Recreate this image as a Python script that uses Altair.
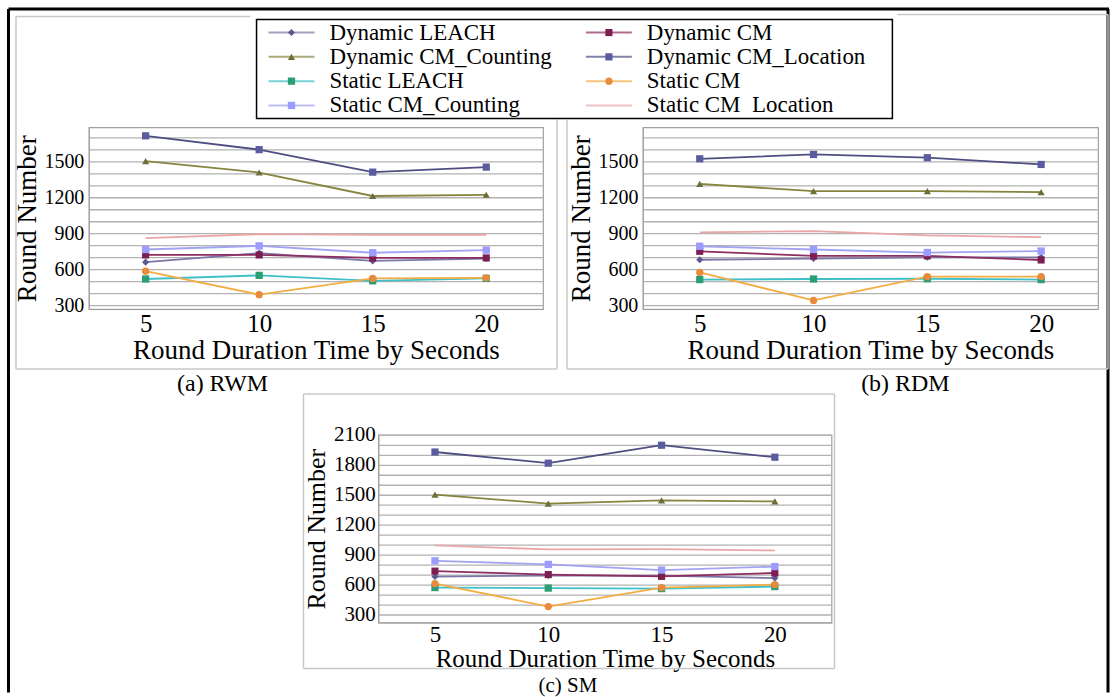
import altair as alt
import pandas as pd

FONT = "Liberation Serif"

SERIES = ["Dynamic LEACH", "Dynamic CM", "Dynamic CM_Counting", "Dynamic CM_Location",
          "Static LEACH", "Static CM", "Static CM_Counting", "Static CM_Location"]
LEGEND_LABELS = ["Dynamic LEACH", "Dynamic CM", "Dynamic CM_Counting", "Dynamic CM_Location",
                 "Static LEACH", "Static CM", "Static CM_Counting", "Static CM\u00a0 Location"]
DURATIONS = [5, 10, 15, 20]

# (a) RWM
RWM_DYN_LEACH = [660, 735, 670, 690]
RWM_DYN_CM = [720, 720, 695, 695]
RWM_DYN_COUNT = [1500, 1405, 1210, 1220]
RWM_DYN_LOC = [1710, 1595, 1408, 1450]
RWM_ST_LEACH = [520, 550, 505, 525]
RWM_ST_CM = [585, 390, 525, 530]
RWM_ST_COUNT = [765, 795, 738, 760]
RWM_ST_LOC = [860, 893, 886, 886]

# (b) RDM
RDM_DYN_LEACH = [680, 690, 700, 700]
RDM_DYN_CM = [750, 712, 712, 678]
RDM_DYN_COUNT = [1310, 1250, 1250, 1242]
RDM_DYN_LOC = [1519, 1555, 1528, 1472]
RDM_ST_LEACH = [515, 520, 522, 515]
RDM_ST_CM = [575, 342, 540, 540]
RDM_ST_COUNT = [792, 765, 740, 752]
RDM_ST_LOC = [908, 918, 882, 868]

# (c) SM
SM_DYN_LEACH = [680, 690, 690, 665]
SM_DYN_CM = [735, 700, 682, 716]
SM_DYN_COUNT = [1502, 1410, 1443, 1433]
SM_DYN_LOC = [1928, 1816, 1996, 1876]
SM_ST_LEACH = [570, 565, 560, 580]
SM_ST_CM = [610, 380, 570, 600]
SM_ST_COUNT = [838, 802, 745, 780]
SM_ST_LOC = [993, 952, 955, 942]

# axis ticks
AB_LABELS = [300, 600, 900, 1200, 1500]
AB_GRID = [300, 400, 500, 600, 700, 800, 900, 1000, 1100, 1200, 1300, 1400, 1500, 1600, 1700]
C_LABELS = [300, 600, 900, 1200, 1500, 1800, 2100]
C_GRID = [300, 400, 500, 600, 700, 800, 900, 1000, 1100, 1200, 1300, 1400, 1500, 1600,
          1700, 1800, 1900, 2000, 2100]

# styles
LINE_COLORS = ["#7a77a6", "#8e2d5f", "#86853f", "#4e4e82",
               "#3fc0c8", "#f3ad45", "#a3a3f2", "#e9a7a7"]
MARKER_COLORS = ["#5c5890", "#7c1f50", "#6e6d3a", "#5b5ba0",
                 "#2c9e73", "#ea8a3c", "#9c9cff", "#e9a7a7"]
SHAPES = ["diamond", "square", "triangle-up", "square", "square", "circle", "square", "circle"]
SIZES = [50, 55, 90, 160, 130, 55, 170, 0]

ONE = pd.DataFrame({"k": [0]})


def make_df(values):
    rows = []
    for s, vals in zip(SERIES, values):
        for d, v in zip(DURATIONS, vals):
            rows.append({"series": s, "duration": d, "rounds": v})
    return pd.DataFrame(rows)


def rule(x1, y1, x2=None, y2=None, color="#c8c8c8", width=1.5):
    enc = {"x": alt.value(x1), "y": alt.value(y1)}
    if x2 is not None:
        enc["x2"] = alt.value(x2)
    if y2 is not None:
        enc["y2"] = alt.value(y2)
    return alt.Chart(ONE).mark_rule(color=color, strokeWidth=width).encode(**enc)


def caption(text, cx, cy, size=24):
    return alt.Chart(ONE).mark_text(text=text, font=FONT, fontSize=size, color="black",
                                    align="center", baseline="middle").encode(
        x=alt.value(cx), y=alt.value(cy))


color_scale = alt.Scale(domain=SERIES, range=LINE_COLORS)
fill_scale = alt.Scale(domain=SERIES, range=MARKER_COLORS)
shape_scale = alt.Scale(domain=SERIES, range=SHAPES)
size_scale = alt.Scale(domain=SERIES, range=SIZES)


def panel_layers(df, ydom, labels, grid, xls, xts, yls, yts, ylpad, ytpad, xlpad, xtpad, decor):
    lab_expr = "indexof([" + ",".join(str(v) for v in labels) + "], datum.value) >= 0 ? datum.label : ''"
    x = alt.X("duration:Q",
              scale=alt.Scale(domain=[2.5, 22.5], nice=False, zero=False),
              axis=alt.Axis(values=DURATIONS, title="Round Duration Time by Seconds", grid=False,
                            ticks=False, labelFont=FONT, labelFontSize=xls, labelColor="black",
                            labelPadding=xlpad, labelFlush=False, labelOverlap=False,
                            titleFont=FONT, titleFontSize=xts, titleFontWeight="normal",
                            titleColor="black", titlePadding=xtpad, domainColor="#a0a0a0"))
    y = alt.Y("rounds:Q",
              scale=alt.Scale(domain=ydom, nice=False, zero=False),
              axis=alt.Axis(values=grid, format="d", labelExpr=lab_expr, title="Round Number",
                            grid=True, gridColor="#b2b2b2", gridWidth=1.3, ticks=False,
                            labelFont=FONT, labelFontSize=yls, labelColor="black",
                            labelPadding=ylpad, labelFlush=False, labelOverlap=False,
                            titleFont=FONT, titleFontSize=yts, titleFontWeight="normal",
                            titleColor="black", titlePadding=ytpad, domainColor="#a0a0a0"))
    base = alt.Chart(df)
    lines = base.mark_line(strokeWidth=1.8).encode(
        x=x, y=y, color=alt.Color("series:N", scale=color_scale, legend=None))
    points = base.transform_filter(alt.datum.series != "Static CM_Location").mark_point(
        filled=True, opacity=1).encode(
        x=x, y=y,
        fill=alt.Fill("series:N", scale=fill_scale, legend=None),
        shape=alt.Shape("series:N", scale=shape_scale, legend=None),
        size=alt.Size("series:N", scale=size_scale, legend=None))
    return alt.layer(*decor, lines, points)


# ---- legend, drawn in panel a's frame of reference (panel a origin = page 88,126)
legend_df = pd.DataFrame({
    "series": SERIES,
    "label": LEGEND_LABELS,
    "col": [i % 2 for i in range(len(SERIES))],
    "row": [i // 2 for i in range(len(SERIES))],
})
lx = alt.X("col:Q", scale=alt.Scale(domain=[0, 1], range=[203, 521]), axis=None)
ly = alt.Y("row:Q", scale=alt.Scale(domain=[0, 3], range=[-95, -22]), axis=None)
leg_base = alt.Chart(legend_df)
leg_box = alt.Chart(ONE).mark_rect(fill="white", stroke="black", strokeWidth=1.5).encode(
    x=alt.value(168), x2=alt.value(805), y=alt.value(-108), y2=alt.value(-9))
leg_lines = leg_base.mark_tick(orient="horizontal", thickness=2, size=46).encode(
    x=lx, y=ly, color=alt.Color("series:N", scale=color_scale, legend=None))
leg_marks = leg_base.transform_filter(alt.datum.series != "Static CM_Location").mark_point(
    filled=True, opacity=1).encode(
    x=lx, y=ly,
    fill=alt.Fill("series:N", scale=fill_scale, legend=None),
    shape=alt.Shape("series:N", scale=shape_scale, legend=None),
    size=alt.Size("series:N", scale=size_scale, legend=None))
leg_text = leg_base.mark_text(align="left", baseline="middle", dx=38, font=FONT,
                              fontSize=23, color="black").encode(x=lx, y=ly, text="label:N")
legend_layer = alt.layer(leg_box, leg_lines, leg_marks, leg_text)

# ---- panel a (origin page 88,126)
decor_a = [
    # outer black frame
    rule(-80.5, -118.5, y2=566, color="black", width=3),
    rule(-80.5, -118.5, x2=1022, color="black", width=3),
    rule(1021, -118.5, y2=566, color="black", width=3),
    # panel frame
    rule(-73, -111, y2=242),
    rule(-73, 242, x2=469),
    rule(469, -8, y2=242),
    rule(-73, -111, x2=162),
    caption("(a) RWM", 134, 257),
]
panel_a = alt.layer(
    panel_layers(make_df([RWM_DYN_LEACH, RWM_DYN_CM, RWM_DYN_COUNT, RWM_DYN_LOC,
                          RWM_ST_LEACH, RWM_ST_CM, RWM_ST_COUNT, RWM_ST_LOC]),
                 [270, 1780], AB_LABELS, AB_GRID, 25, 27, 20, 27, 5, 2, 2, 2, decor_a),
    legend_layer,
).resolve_scale(x="independent", y="independent").properties(width=455, height=182)

# ---- panel b (origin page 643,126)
decor_b = [
    rule(-76, -8, y2=242),
    rule(-76, 242, x2=466),
    rule(466, -113, y2=242),
    rule(255, -113, x2=466),
    caption("(b) RDM", 263, 257),
]
panel_b = panel_layers(make_df([RDM_DYN_LEACH, RDM_DYN_CM, RDM_DYN_COUNT, RDM_DYN_LOC,
                                RDM_ST_LEACH, RDM_ST_CM, RDM_ST_COUNT, RDM_ST_LOC]),
                       [270, 1780], AB_LABELS, AB_GRID, 25, 27, 20, 27, 5, 2, 2, 2,
                       decor_b).properties(width=456, height=182)

# ---- panel c (origin page 378,434)
decor_c = [
    rule(-75, -41, y2=234),
    rule(-75, 234, x2=457),
    rule(457, -41, y2=234),
    rule(-75, -41, x2=457),
    caption("(c) SM", 190, 251.5, 21),
]
panel_c = panel_layers(make_df([SM_DYN_LEACH, SM_DYN_CM, SM_DYN_COUNT, SM_DYN_LOC,
                                SM_ST_LEACH, SM_ST_CM, SM_ST_COUNT, SM_ST_LOC]),
                       [220, 2100], C_LABELS, C_GRID, 23, 25, 21, 26, 3, 4, 1, 0,
                       decor_c).properties(width=454, height=188)

spacer = alt.Chart(ONE).mark_point(opacity=0).encode(
    x=alt.value(0), y=alt.value(0)).properties(
    width=280, height=10, view=alt.ViewBackground(stroke="transparent"))

row_ab = alt.hconcat(panel_a, panel_b, spacing=100, bounds="flush").resolve_scale(
    x="independent", y="independent")
row_c = alt.hconcat(spacer, panel_c, spacing=10, bounds="flush").resolve_scale(
    x="independent", y="independent")
# flush layout: the nested row_ab contributes no height, so spacing = 434 - 126
chart = alt.vconcat(row_ab, row_c, spacing=308, bounds="flush").resolve_scale(
    x="independent", y="independent").properties(
    padding={"left": 6, "top": 6, "right": 0, "bottom": 0},
    background="white",
).configure(font=FONT).configure_text(font=FONT).configure_view(
    stroke="#a0a0a0", strokeWidth=1.2)

chart.save("out.html", embed_options={"renderer": "svg", "actions": False})
